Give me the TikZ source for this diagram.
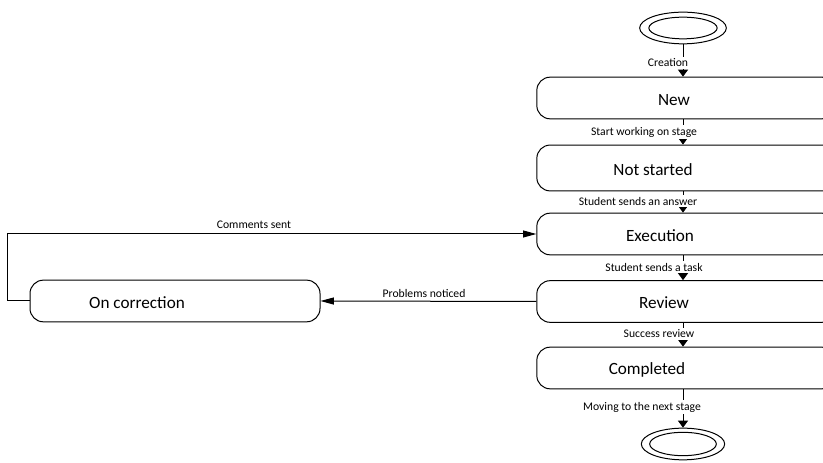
\documentclass[tikz,border=0pt]{standalone}
\usepackage{fontspec}
\setmainfont{Carlito}
\usepackage{tikz}
\usetikzlibrary{arrows.meta,shapes,calc,positioning}
\tikzstyle{state} =[draw, rounded corners=8pt, minimum width=179pt,
                    minimum height=25pt, line width=0.6pt, inner sep=0pt]
\tikzstyle{stext} =[inner sep=0pt, font=\fontsize{10.3}{12}\selectfont]
\tikzstyle{lbl}   =[inner sep=1pt, fill=white, font=\fontsize{7}{8}\selectfont]
\tikzstyle{vedge} =[line width=0.6pt, -{Triangle[width=6pt,length=4.2pt]}]
\tikzstyle{hedge} =[line width=0.6pt, -{Triangle[width=4.2pt,length=8pt]}]
\tikzstyle{term}  =[ellipse, draw, line width=0.6pt, inner sep=0pt]

\begin{document}
\begin{tikzpicture}[x=0.6pt, y=-0.6pt]
            \clip (0,0) rectangle (823,463);
            % terminal states
            \node (start) [term, minimum width=52pt, minimum height=19pt] at (683,28) {};
            \node (startin) [term, minimum width=41pt, minimum height=13pt] at (683,28) {};
            \node (end) [term, minimum width=50pt, minimum height=19pt] at (683,444) {};
            \node (endin) [term, minimum width=40pt, minimum height=14pt] at (683,444) {};
            % states
            \node (new) [state] at (686,98) {};
            \node (notstarted) [state, minimum height=27.5pt] at (686,168) {};
            \node (exec) [state] at (686,234) {};
            \node (review) [state] at (686,301.5) {};
            \node (done) [state] at (686,368) {};
            \node (oncorr) [state, minimum width=174pt] at (175,301) {};
            \node (newtext) [stext] at (674,100) {New};
            \node (notstartedtext) [stext] at (653,170) {Not started};
            \node (exectext) [stext] at (660,236) {Execution};
            \node (reviewtext) [stext] at (664,303) {Review};
            \node (donetext) [stext] at (647,370) {Completed};
            \node (oncorrtext) [stext] at (137,303) {On correction};
            % transitions
            \draw[vedge] (start.south) to (start.south |- new.north);
            \draw[vedge] (start.south |- new.south) to (start.south |- notstarted.north);
            \draw[vedge] (start.south |- notstarted.south) to (start.south |- exec.north);
            \draw[vedge] (start.south |- exec.south) to (start.south |- review.north);
            \draw[vedge] (start.south |- review.south) to (start.south |- done.north);
            \draw[vedge] (start.south |- done.south) to (end.north);
            \draw[hedge] (review.west) to (oncorr.east);
            \draw[hedge] (oncorr.west) -- ++(-22,0) |- (exec.west);
            % transition labels
            \node (l1) [lbl] at (668,63) {Creation};
            \node (l2) [lbl] at (644,132) {Start working on stage};
            \node (l3) [lbl] at (638,201) {Student sends an answer};
            \node (l4) [lbl] at (654,267) {Student sends a task};
            \node (l5) [lbl] at (659,334) {Success review};
            \node (l6) [lbl] at (642,407) {Moving to the next stage};
            \node (l7) [lbl] at (254,225) {Comments sent};
            \node (l8) [lbl] at (424,293) {Problems noticed};

        \end{tikzpicture}
\end{document}
